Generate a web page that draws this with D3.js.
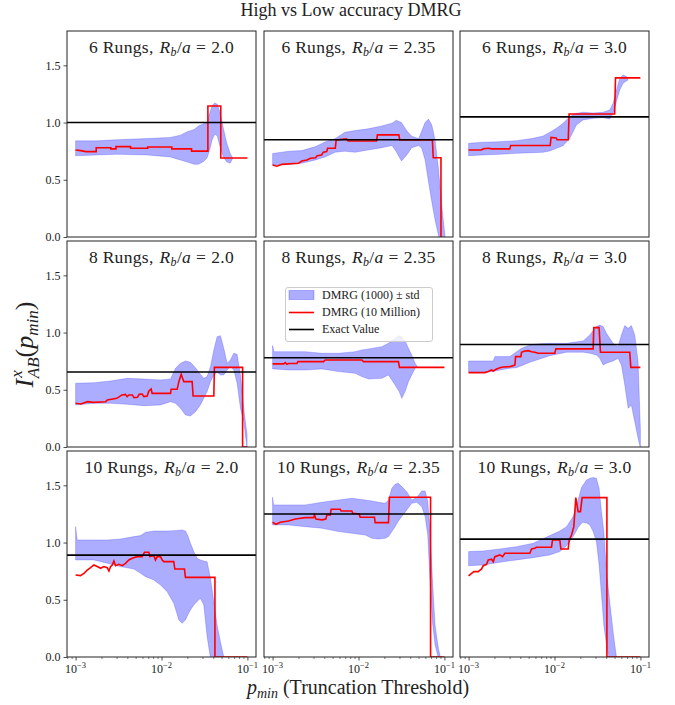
<!DOCTYPE html>
<html><head><meta charset="utf-8">
<script src="https://cdn.jsdelivr.net/npm/d3@7"></script>
<style>body{margin:0;background:#fff}svg{display:block}</style>
</head><body>
<svg id="c" width="675" height="705"></svg>
<script>
// ---------- data (x values are log10(p_min)) ----------
const rungs = [6, 8, 10];
const ratios = ["2.0", "2.35", "3.0"];
const exactValues = [[1.0, 0.85, 1.05], [0.655, 0.78, 0.895], [0.89, 1.25, 1.03]];
const yTicks = [0, 0.5, 1.0, 1.5];
const xTickExponents = [-3, -2, -1];
const legendLabels = ["DMRG (1000) \u00b1 std", "DMRG (10 Million)", "Exact Value"];

// red: [log10 p, value]
const red_6_20 = [[-3.0,0.76],[-2.94,0.755],[-2.88,0.746],[-2.76,0.746],[-2.76,0.78],[-2.59,0.78],[-2.59,0.77],[-2.53,0.77],[-2.53,0.79],[-2.36,0.79],[-2.36,0.775],[-2.16,0.775],[-2.16,0.787],[-1.88,0.787],[-1.88,0.77],[-1.65,0.77],[-1.65,0.75],[-1.46,0.75],[-1.46,1.145],[-1.31,1.145],[-1.31,0.69],[-1.0,0.69]];
const red_6_235 = [[-3.0,0.629],[-2.95,0.618],[-2.89,0.635],[-2.70,0.644],[-2.66,0.664],[-2.60,0.673],[-2.56,0.688],[-2.50,0.693],[-2.48,0.711],[-2.43,0.717],[-2.41,0.74],[-2.37,0.746],[-2.36,0.775],[-2.27,0.775],[-2.26,0.848],[-2.14,0.857],[-2.12,0.839],[-1.79,0.839],[-1.78,0.892],[-1.53,0.892],[-1.52,0.848],[-1.14,0.848],[-1.13,0.693],[-1.04,0.693],[-1.04,-0.2]];
const red_6_30 = [[-3.0,0.76],[-2.85,0.76],[-2.83,0.77],[-2.77,0.775],[-2.73,0.77],[-2.52,0.77],[-2.51,0.80],[-2.05,0.80],[-2.04,0.87],[-1.98,0.865],[-1.97,0.85],[-1.84,0.85],[-1.83,1.075],[-1.30,1.075],[-1.29,1.39],[-1.0,1.39]];
const red_8_20 = [[-3.0,0.382],[-2.94,0.376],[-2.86,0.396],[-2.79,0.39],[-2.65,0.396],[-2.63,0.411],[-2.52,0.425],[-2.46,0.455],[-2.42,0.46],[-2.40,0.44],[-2.38,0.455],[-2.34,0.455],[-2.32,0.431],[-2.28,0.434],[-2.26,0.46],[-2.225,0.463],[-2.205,0.44],[-2.167,0.446],[-2.147,0.49],[-2.12,0.507],[-2.109,0.469],[-1.895,0.469],[-1.888,0.504],[-1.818,0.504],[-1.798,0.571],[-1.771,0.635],[-1.74,0.571],[-1.643,0.571],[-1.632,0.446],[-1.391,0.446],[-1.384,0.696],[-1.056,0.696],[-1.056,0.0],[-1.0,0.0]];
const red_8_235 = [[-3.0,0.726],[-2.87,0.726],[-2.853,0.738],[-2.833,0.723],[-2.814,0.73],[-2.717,0.73],[-2.705,0.746],[-2.407,0.746],[-2.388,0.76],[-1.961,0.76],[-1.942,0.746],[-1.535,0.746],[-1.523,0.696],[-1.0,0.696]];
const red_8_30 = [[-3.0,0.65],[-2.81,0.65],[-2.771,0.659],[-2.733,0.673],[-2.713,0.664],[-2.674,0.682],[-2.636,0.693],[-2.597,0.699],[-2.519,0.702],[-2.481,0.711],[-2.461,0.717],[-2.453,0.79],[-2.391,0.79],[-2.384,0.828],[-2.345,0.839],[-2.306,0.842],[-2.267,0.833],[-2.229,0.828],[-2.19,0.819],[-1.996,0.819],[-1.984,0.857],[-1.55,0.857],[-1.543,1.043],[-1.481,1.043],[-1.465,0.828],[-1.124,0.828],[-1.112,0.696],[-1.0,0.696]];
const red_10_20 = [[-3.0,0.717],[-2.942,0.711],[-2.903,0.731],[-2.864,0.76],[-2.826,0.781],[-2.787,0.804],[-2.748,0.79],[-2.709,0.775],[-2.671,0.79],[-2.632,0.781],[-2.612,0.752],[-2.593,0.79],[-2.574,0.804],[-2.554,0.839],[-2.535,0.798],[-2.496,0.81],[-2.457,0.798],[-2.419,0.819],[-2.38,0.848],[-2.341,0.862],[-2.283,0.877],[-2.225,0.877],[-2.198,0.915],[-2.147,0.915],[-2.136,0.877],[-2.089,0.886],[-2.07,0.848],[-2.05,0.877],[-2.012,0.877],[-1.992,0.848],[-1.973,0.833],[-1.857,0.833],[-1.845,0.769],[-1.733,0.769],[-1.721,0.696],[-1.378,0.696],[-1.378,0.0],[-1.0,0.0]];
const red_10_235 = [[-3.0,1.177],[-2.961,1.16],[-2.911,1.177],[-2.814,1.189],[-2.736,1.206],[-2.62,1.218],[-2.523,1.218],[-2.512,1.241],[-2.496,1.206],[-2.426,1.198],[-2.38,1.206],[-2.368,1.241],[-2.329,1.241],[-2.318,1.291],[-2.213,1.291],[-2.202,1.276],[-2.078,1.276],[-2.066,1.256],[-1.992,1.25],[-1.981,1.221],[-1.814,1.221],[-1.806,1.174],[-1.651,1.174],[-1.64,1.396],[-1.161,1.396],[-1.161,0.0],[-1.0,0.0]];
const red_10_30 = [[-3.0,0.708],[-2.965,0.731],[-2.938,0.746],[-2.888,0.746],[-2.849,0.769],[-2.829,0.798],[-2.791,0.81],[-2.771,0.848],[-2.733,0.854],[-2.713,0.833],[-2.694,0.877],[-2.636,0.892],[-2.605,0.877],[-2.578,0.906],[-2.287,0.906],[-2.267,0.944],[-2.229,0.95],[-2.209,0.959],[-2.035,0.959],[-2.023,1.023],[-1.938,1.023],[-1.926,0.944],[-1.841,0.944],[-1.829,1.023],[-1.802,1.066],[-1.775,1.139],[-1.752,1.393],[-1.725,1.27],[-1.698,1.27],[-1.678,1.393],[-1.39,1.393],[-1.39,0.0],[-1.0,0.0]];

// band: [log10 p, mean - std, mean + std]
const band_6_20 = [[-3.0,0.71,0.84],[-2.75,0.717,0.84],[-2.52,0.723,0.85],[-2.17,0.717,0.86],[-1.9,0.70,0.87],[-1.78,0.673,0.89],[-1.70,0.655,0.92],[-1.62,0.635,0.94],[-1.57,0.635,0.97],[-1.51,0.66,0.99],[-1.47,0.69,1.0],[-1.44,0.76,1.08],[-1.41,0.85,1.15],[-1.38,0.90,1.17],[-1.35,0.88,1.16],[-1.32,0.79,1.09],[-1.28,0.70,0.95],[-1.24,0.655,0.82],[-1.20,0.645,0.73],[-1.17,0.69,0.69]];
const band_6_235 = [[-3.0,0.63,0.73],[-2.81,0.635,0.75],[-2.66,0.645,0.755],[-2.50,0.673,0.79],[-2.39,0.70,0.83],[-2.27,0.74,0.86],[-2.16,0.75,0.915],[-2.04,0.74,0.93],[-1.89,0.76,0.945],[-1.73,0.78,0.97],[-1.61,0.80,0.995],[-1.56,0.745,1.02],[-1.50,0.665,1.0],[-1.44,0.715,0.93],[-1.38,0.78,0.88],[-1.30,0.80,0.86],[-1.264,0.775,0.927],[-1.225,0.673,1.0],[-1.186,0.484,1.03],[-1.147,0.309,0.98],[-1.109,0.149,0.85],[-1.07,0.017,0.60],[-1.031,-0.07,0.28],[-0.992,-0.16,0.0]];
const band_6_30 = [[-3.0,0.711,0.819],[-2.833,0.717,0.828],[-2.636,0.723,0.833],[-2.442,0.731,0.842],[-2.248,0.737,0.862],[-2.132,0.74,0.883],[-2.054,0.752,0.915],[-1.977,0.775,0.95],[-1.9,0.798,0.994],[-1.822,0.862,1.052],[-1.744,0.979,1.081],[-1.667,1.023,1.09],[-1.55,1.037,1.084],[-1.434,1.043,1.09],[-1.357,1.031,1.11],[-1.318,1.081,1.168],[-1.279,1.183,1.285],[-1.24,1.285,1.387],[-1.202,1.343,1.416],[-1.163,1.364,1.402],[-1.143,1.372,1.372]];
const band_8_20 = [[-3.0,0.367,0.557],[-2.787,0.382,0.562],[-2.593,0.382,0.577],[-2.399,0.373,0.60],[-2.205,0.361,0.594],[-2.012,0.367,0.586],[-1.895,0.396,0.594],[-1.837,0.382,0.688],[-1.779,0.338,0.731],[-1.721,0.28,0.752],[-1.663,0.271,0.74],[-1.605,0.309,0.693],[-1.547,0.367,0.635],[-1.508,0.425,0.60],[-1.469,0.484,0.615],[-1.43,0.571,0.702],[-1.391,0.629,0.848],[-1.353,0.653,0.964],[-1.314,0.629,0.973],[-1.275,0.629,0.862],[-1.236,0.673,0.731],[-1.198,0.702,0.76],[-1.159,0.673,0.819],[-1.12,0.557,0.81],[-1.081,0.338,0.629],[-1.043,0.221,0.338],[-1.004,-0.012,0.105]];
const band_8_235 = [[-3.0,0.682,0.886],[-2.984,0.682,0.833],[-2.814,0.673,0.833],[-2.62,0.673,0.833],[-2.426,0.682,0.819],[-2.233,0.659,0.819],[-2.039,0.644,0.833],[-1.961,0.615,0.848],[-1.884,0.594,0.857],[-1.729,0.60,0.877],[-1.651,0.629,0.906],[-1.574,0.542,0.95],[-1.527,0.484,0.973],[-1.496,0.425,0.962],[-1.457,0.484,0.927],[-1.419,0.571,0.862],[-1.38,0.629,0.804],[-1.341,0.688,0.731],[-1.314,0.702,0.702]];
const band_8_30 = [[-3.0,0.653,0.752],[-2.829,0.653,0.752],[-2.713,0.659,0.752],[-2.694,0.664,0.79],[-2.519,0.688,0.79],[-2.442,0.693,0.833],[-2.384,0.711,0.862],[-2.287,0.74,0.892],[-2.171,0.769,0.903],[-2.054,0.798,0.906],[-1.86,0.828,0.906],[-1.667,0.828,0.927],[-1.589,0.819,0.979],[-1.512,0.804,1.052],[-1.473,0.775,1.066],[-1.434,0.717,1.052],[-1.395,0.731,0.994],[-1.318,0.752,0.906],[-1.26,0.775,0.877],[-1.221,0.717,0.979],[-1.182,0.542,1.061],[-1.143,0.338,1.037],[-1.105,0.367,1.061],[-1.066,0.221,0.979],[-1.027,0.076,0.746],[-1.0,-0.012,0.15]];
const band_10_20 = [[-3.0,0.848,1.139],[-2.981,0.848,1.023],[-2.787,0.848,1.023],[-2.632,0.819,1.023],[-2.477,0.79,1.031],[-2.322,0.769,1.052],[-2.244,0.731,1.061],[-2.186,0.702,1.09],[-2.089,0.673,1.101],[-2.012,0.629,1.101],[-1.934,0.571,1.101],[-1.857,0.469,1.104],[-1.798,0.323,1.107],[-1.76,0.294,1.11],[-1.721,0.323,1.101],[-1.694,0.367,1.061],[-1.663,0.411,0.994],[-1.624,0.455,0.921],[-1.585,0.484,0.862],[-1.547,0.513,0.848],[-1.508,0.455,0.839],[-1.469,0.178,0.833],[-1.43,-0.012,0.688],[-1.391,-0.1,0.484],[-1.353,-0.19,0.28],[-1.314,-0.25,0.134],[-1.275,-0.3,0.0],[-1.0,-0.5,-0.1]];
const band_10_235 = [[-3.0,1.154,1.396],[-2.988,1.154,1.329],[-2.814,1.154,1.329],[-2.62,1.139,1.329],[-2.426,1.125,1.352],[-2.233,1.096,1.372],[-2.078,1.081,1.387],[-1.922,1.066,1.372],[-1.845,1.037,1.364],[-1.767,1.031,1.352],[-1.69,1.037,1.343],[-1.651,1.052,1.372],[-1.612,1.096,1.474],[-1.574,1.139,1.509],[-1.535,1.189,1.518],[-1.496,1.227,1.489],[-1.438,1.285,1.445],[-1.38,1.343,1.372],[-1.322,1.352,1.393],[-1.264,1.314,1.451],[-1.225,1.227,1.451],[-1.194,1.066,1.364],[-1.167,0.659,1.096],[-1.14,0.309,0.688],[-1.109,0.105,0.28],[-1.07,-0.012,0.076],[-1.047,-0.07,0.0]];
const band_10_30 = [[-3.0,0.798,0.921],[-2.829,0.804,0.927],[-2.636,0.828,0.944],[-2.442,0.848,0.964],[-2.248,0.868,0.994],[-2.054,0.892,1.061],[-1.938,0.921,1.101],[-1.86,0.973,1.139],[-1.783,1.052,1.227],[-1.725,1.131,1.372],[-1.686,1.166,1.48],[-1.667,1.177,1.503],[-1.628,1.171,1.547],[-1.589,1.154,1.562],[-1.55,1.096,1.568],[-1.512,1.008,1.562],[-1.481,0.804,1.474],[-1.453,0.542,1.27],[-1.426,0.28,1.096],[-1.395,0.105,0.746],[-1.357,-0.04,0.484],[-1.318,-0.13,0.221],[-1.279,-0.19,0.0]];

const redSeries = [[red_6_20, red_6_235, red_6_30], [red_8_20, red_8_235, red_8_30], [red_10_20, red_10_235, red_10_30]];
const bandSeries = [[band_6_20, band_6_235, band_6_30], [band_8_20, band_8_235, band_8_30], [band_10_20, band_10_235, band_10_30]];

// ---------- layout ----------
const FONT = "'Liberation Serif','Times New Roman',serif";
const colLeft = [67, 264, 460];
const rowTop = [31, 241, 451];
const PW = 189, PH = 206;
const xMinor = [];
[-4, -3, -2].forEach(e => { for (let k = 2; k <= 9; k++) xMinor.push(k * Math.pow(10, e)); });

const svg = d3.select("#c");
const defs = svg.append("defs");

rowTop.forEach((y0, r) => {
  colLeft.forEach((x0, c) => {
    const x = d3.scaleLog().domain([Math.pow(10, -3.1), Math.pow(10, -0.9)]).range([x0, x0 + PW]);
    const y = d3.scaleLinear().domain([0, 1.8]).range([y0 + PH, y0]);
    const id = `clip${r}${c}`;
    defs.append("clipPath").attr("id", id).append("rect")
      .attr("x", x0).attr("y", y0).attr("width", PW).attr("height", PH);
    const g = svg.append("g").attr("clip-path", `url(#${id})`);
    const area = d3.area().x(d => x(Math.pow(10, d[0]))).y0(d => y(d[1])).y1(d => y(d[2]));
    g.append("path").datum(bandSeries[r][c]).attr("d", area)
      .attr("fill", "#0000ff").attr("fill-opacity", 0.32)
      .attr("stroke", "#0000ff").attr("stroke-opacity", 0.25).attr("stroke-width", 0.8);
    const line = d3.line().x(d => x(Math.pow(10, d[0]))).y(d => y(d[1]));
    g.append("path").datum(redSeries[r][c]).attr("d", line)
      .attr("fill", "none").attr("stroke", "#ff0000").attr("stroke-width", 1.6);
    g.append("line").attr("x1", x0).attr("x2", x0 + PW)
      .attr("y1", y(exactValues[r][c])).attr("y2", y(exactValues[r][c]))
      .attr("stroke", "#000").attr("stroke-width", 1.6);

    // spines
    svg.append("rect").attr("x", x0).attr("y", y0).attr("width", PW).attr("height", PH)
      .attr("fill", "none").attr("stroke", "#222").attr("stroke-width", 1);

    // title
    const t = svg.append("text").attr("x", x0 + PW / 2).attr("y", y0 + 22)
      .attr("text-anchor", "middle").attr("font-family", FONT).attr("font-size", 17.5)
      .attr("letter-spacing", 0.3).attr("fill", "#222");
    t.append("tspan").text(`${rungs[r]} Rungs,`);
    t.append("tspan").attr("font-style", "italic").attr("dx", 6).text("R");
    t.append("tspan").attr("font-style", "italic").attr("font-size", 12).attr("dy", 3).text("b");
    t.append("tspan").attr("dy", -3).text("/");
    t.append("tspan").attr("font-style", "italic").text("a");
    t.append("tspan").attr("dx", 5).text("=");
    t.append("tspan").attr("dx", 5).text(ratios[c]);

    // y axis (first column)
    if (c === 0) {
      const ay = svg.append("g").attr("transform", `translate(${x0},0)`)
        .call(d3.axisLeft(y).tickValues(yTicks).tickSize(3.5).tickPadding(3).tickFormat(d3.format(".1f")));
      ay.select(".domain").remove();
      ay.selectAll("line").attr("stroke", "#222").attr("stroke-width", 0.8);
      ay.selectAll("text").attr("font-family", FONT).attr("font-size", 12).attr("fill", "#222");
    }
    // x axis (bottom row)
    if (r === 2) {
      const ax = svg.append("g").attr("transform", `translate(0,${y0 + PH})`)
        .call(d3.axisBottom(x).tickValues(xTickExponents.map(e => Math.pow(10, e))).tickSize(3.5).tickFormat(""));
      ax.select(".domain").remove();
      ax.selectAll("line").attr("stroke", "#222").attr("stroke-width", 0.8);
      const am = svg.append("g").attr("transform", `translate(0,${y0 + PH})`)
        .call(d3.axisBottom(x).tickValues(xMinor.filter(v => v >= x.domain()[0] && v <= x.domain()[1])).tickSize(2).tickFormat(""));
      am.select(".domain").remove();
      am.selectAll("line").attr("stroke", "#222").attr("stroke-width", 0.6);
      xTickExponents.forEach(e => {
        const tt = svg.append("text").attr("x", x(Math.pow(10, e))).attr("y", y0 + PH + 16)
          .attr("text-anchor", "middle").attr("font-family", FONT).attr("font-size", 12).attr("fill", "#222");
        tt.append("tspan").text("10");
        tt.append("tspan").attr("font-size", 8.5).attr("dy", -5).text("\u2212" + Math.abs(e));
      });
    }
  });
});

// figure title
svg.append("text").attr("x", 351).attr("y", 16).attr("text-anchor", "middle")
  .attr("font-family", FONT).attr("font-size", 18).attr("fill", "#222").text("High vs Low accuracy DMRG");

// x label
const xl = svg.append("text").attr("x", 358).attr("y", 694).attr("text-anchor", "middle")
  .attr("font-family", FONT).attr("font-size", 20).attr("fill", "#222");
xl.append("tspan").attr("font-style", "italic").text("p");
xl.append("tspan").attr("font-style", "italic").attr("font-size", 14).attr("dy", 4).text("min");
xl.append("tspan").attr("dy", -4).text(" (Truncation Threshold)");

// y label
const yg = svg.append("g").attr("transform", "translate(33,344) rotate(-90)");
const yl = yg.append("text").attr("font-family", FONT).attr("font-size", 26).attr("fill", "#222");
yl.append("tspan").attr("font-style", "italic").text("I");
yl.append("tspan").attr("font-style", "italic").attr("font-size", 17).attr("dy", -11).attr("dx", 1).text("x");
yl.append("tspan").attr("font-style", "italic").attr("font-size", 17).attr("dy", 17).attr("dx", -8).text("AB");
yl.append("tspan").attr("dy", -6).text("(");
yl.append("tspan").attr("font-style", "italic").text("p");
yl.append("tspan").attr("font-style", "italic").attr("font-size", 17).attr("dy", 5).text("min");
yl.append("tspan").attr("dy", -5).text(")");
const bb = yl.node().getBBox();
yl.attr("x", 0).attr("transform", `translate(${-bb.width / 2},0)`);

// legend
const L = svg.append("g");
L.append("rect").attr("x", 285.5).attr("y", 287.5).attr("width", 147).attr("height", 54).attr("rx", 2.5)
  .attr("fill", "#fff").attr("fill-opacity", 0.8).attr("stroke", "#ccc").attr("stroke-width", 1);
L.append("rect").attr("x", 289).attr("y", 290.5).attr("width", 25).attr("height", 9)
  .attr("fill", "#0000ff").attr("fill-opacity", 0.32).attr("stroke", "#0000ff").attr("stroke-opacity", 0.25);
L.append("line").attr("x1", 289).attr("x2", 314).attr("y1", 312.5).attr("y2", 312.5).attr("stroke", "#ff0000").attr("stroke-width", 1.6);
L.append("line").attr("x1", 289).attr("x2", 314).attr("y1", 329.5).attr("y2", 329.5).attr("stroke", "#000").attr("stroke-width", 1.6);
[299, 316, 333].forEach((yy, i) => {
  L.append("text").attr("x", 322).attr("y", yy).attr("font-family", FONT).attr("font-size", 12)
    .attr("fill", "#222").text(legendLabels[i]);
});
</script></body></html>
